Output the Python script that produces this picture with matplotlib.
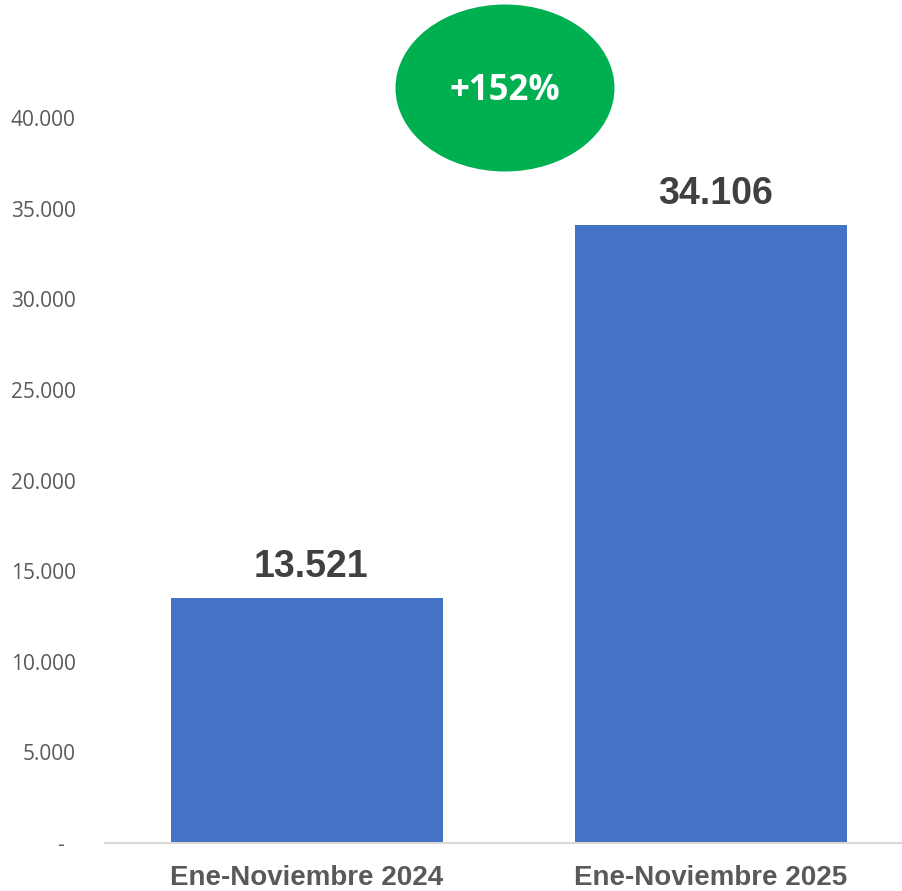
import matplotlib.pyplot as plt
from matplotlib.patches import Ellipse

# data
categories = ['Ene-Noviembre 2024', 'Ene-Noviembre 2025']
values = [13521, 34106]
value_labels = ['13.521', '34.106']
yticks = [0, 5000, 10000, 15000, 20000, 25000, 30000, 35000, 40000]
ytick_labels = ['-  ', '5.000', '10.000', '15.000', '20.000', '25.000', '30.000', '35.000', '40.000']
growth_label = '+152%'

W, H = 903, 891
fig = plt.figure(figsize=(W / 100, H / 100), dpi=100)

# axes placed in pixel terms
left, right, bottom, top = 105, 903, 843, 27.5
ax = fig.add_axes([left / W, (H - bottom) / H, (right - left) / W, (bottom - top) / H])

x = range(len(categories))
ax.bar(x, values, width=0.673, color='#4472C4', zorder=2)
ax.set_xlim(-0.5, 1.475)
ax.set_ylim(0, 45000)

for xi, v, lab in zip(x, values, value_labels):
    ax.text(xi + 0.01, v + 700, lab, ha='center', va='bottom', fontsize=27,
            fontweight='bold', color='#404040', family='Liberation Sans')

ax.set_yticks(yticks)
ax.set_yticklabels(ytick_labels, fontsize=15, color='#595959', family='Open Sans')
ax.tick_params(axis='y', length=0, pad=21)
ax.set_xticks(list(x))
ax.set_xticklabels(categories, fontsize=20, fontweight='bold', color='#595959',
                   family='Liberation Sans')
ax.tick_params(axis='x', length=0, pad=16)

for s in ['top', 'right', 'left']:
    ax.spines[s].set_visible(False)
ax.spines['bottom'].set_color('#D9D9D9')
ax.spines['bottom'].set_linewidth(1.5)

# green growth bubble
ell = Ellipse((505 / W, 1 - 88 / H), 219 / W, 167 / H, transform=fig.transFigure,
              facecolor='#00B050', edgecolor='none', zorder=5)
fig.patches.append(ell)
fig.text(505 / W, 1 - 91 / H, growth_label, ha='center', va='center', fontsize=25,
         fontweight='bold', color='white', family='Open Sans', zorder=6)

fig.savefig('out.png', dpi=100)
